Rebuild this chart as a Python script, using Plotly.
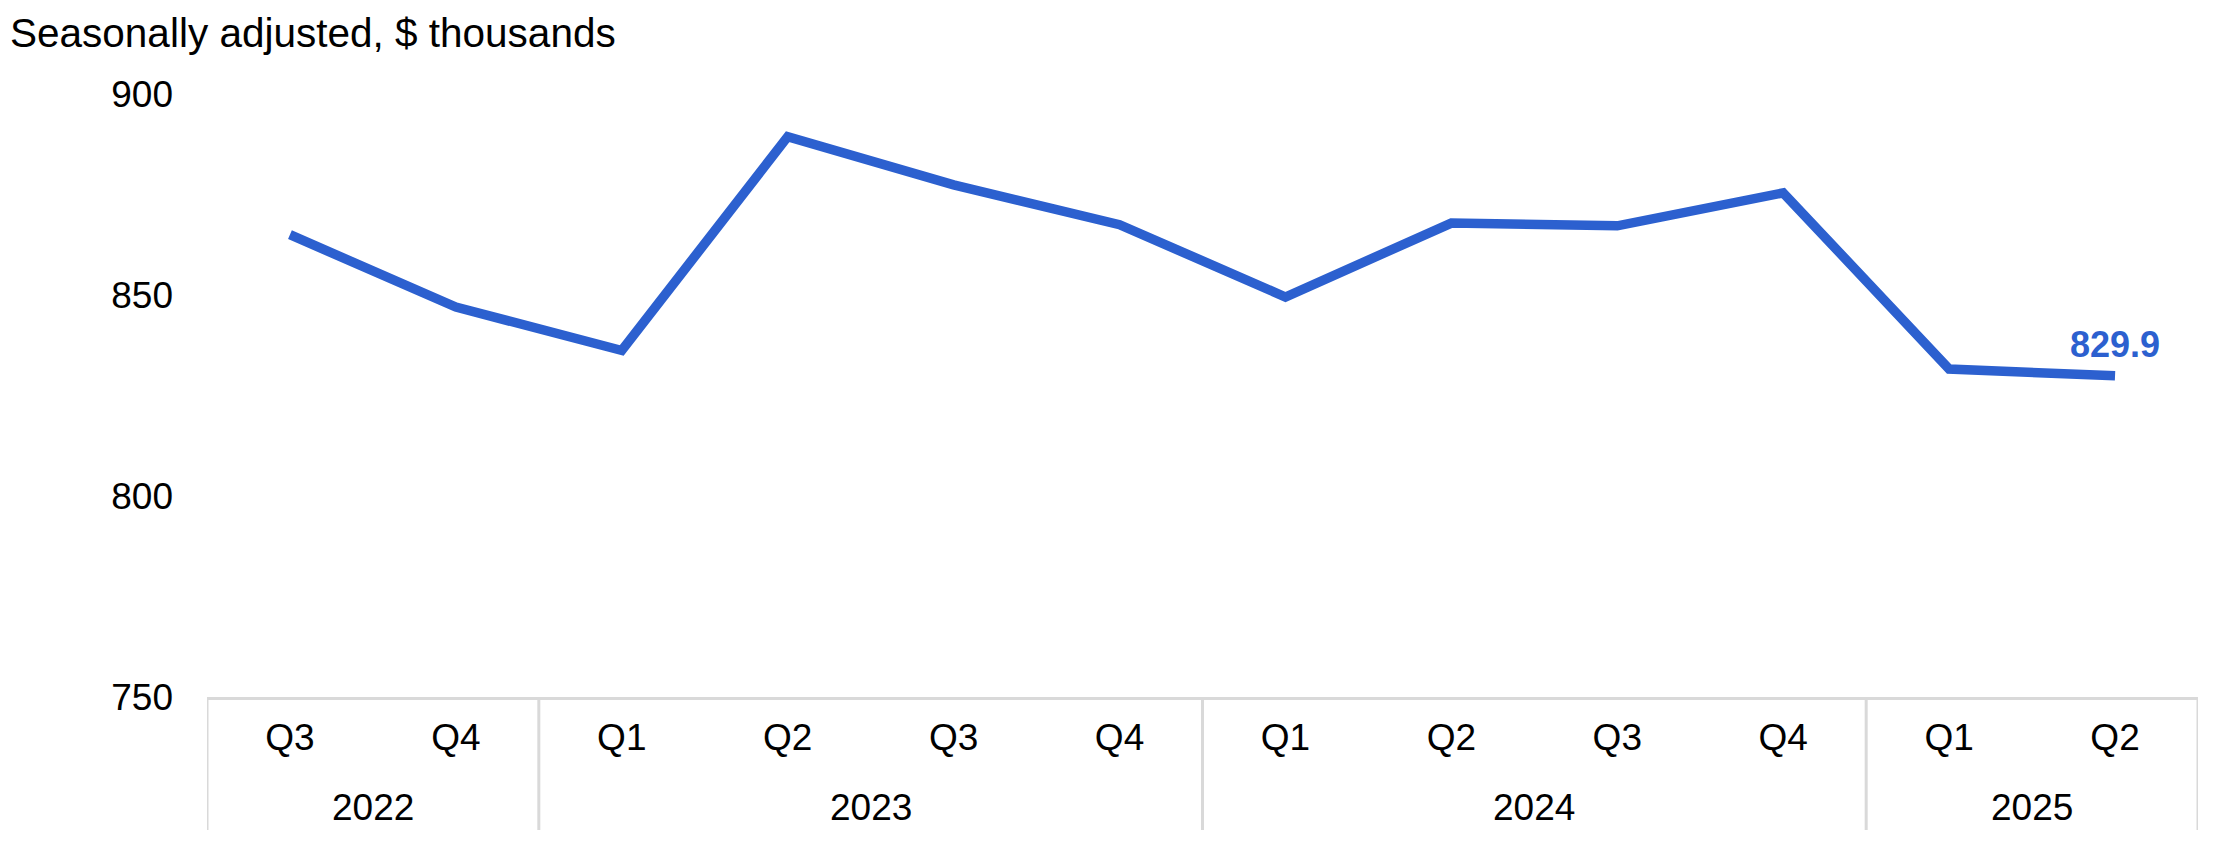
import plotly.graph_objects as go

years = ["2022", "2022", "2023", "2023", "2023", "2023",
         "2024", "2024", "2024", "2024", "2025", "2025"]
quarters = ["Q3", "Q4", "Q1", "Q2", "Q3", "Q4",
            "Q1", "Q2", "Q3", "Q4", "Q1", "Q2"]
values = [865.0, 847.0, 836.2, 889.4, 877.4, 867.5,
          849.5, 867.9, 867.2, 875.4, 831.6, 829.9]
y_ticks = [750, 800, 850, 900]
title_text = "Seasonally adjusted, $ thousands"

LINE = "#2C60CF"
GRID = "#D9D9D9"
FONT = "Liberation Sans, Arial, sans-serif"
FS = 37

# page body has an 8px margin; size the figure to fit the 2226x856 window
W, H = 2210, 840
L, T = 199, 86
PLOT_RIGHT, PLOT_BOTTOM = 2190, 689
PLOT_H = PLOT_BOTTOM - T

idx = list(range(len(quarters)))

fig = go.Figure()
fig.add_trace(go.Scatter(
    x=idx, y=values, mode="lines",
    line=dict(color=LINE, width=9.5), hoverinfo="skip", showlegend=False,
))

fig.add_annotation(
    x=idx[-1], y=values[-1], text=f"<b>{values[-1]:.1f}</b>",
    showarrow=False, yshift=31, font=dict(family=FONT, size=36, color=LINE),
)

# year groups: labels and dividers derived from the years list
groups = []
for i, yv in enumerate(years):
    if not groups or groups[-1][0] != yv:
        groups.append([yv, i, i])
    else:
        groups[-1][2] = i

BOX_BOTTOM = -133 / PLOT_H
YEAR_Y = -110 / PLOT_H
bounds = [g[1] - 0.5 for g in groups] + [groups[-1][2] + 0.5]
for b in bounds:
    fig.add_shape(type="line", xref="x", yref="paper", x0=b, x1=b,
                  y0=0, y1=BOX_BOTTOM, line=dict(color=GRID, width=3),
                  layer="below")
for name, a, b in groups:
    fig.add_annotation(x=(a + b) / 2, y=YEAR_Y, xref="x", yref="paper",
                       text=name, showarrow=False, yanchor="middle",
                       font=dict(family=FONT, size=FS, color="black"))

fig.update_layout(
    width=W, height=H,
    margin=dict(l=L, r=W - PLOT_RIGHT, t=T, b=H - PLOT_BOTTOM),
    paper_bgcolor="white", plot_bgcolor="white",
    font=dict(family=FONT, size=FS, color="black"),
    title=dict(text=title_text, x=2 / W, xanchor="left", xref="container",
               y=1 - 25 / H, yanchor="middle", yref="container",
               font=dict(family=FONT, size=40.5, color="black")),
    xaxis=dict(
        range=[-0.5, len(idx) - 0.5], tickvals=idx, ticktext=quarters,
        showgrid=False, zeroline=False,
        showline=True, linecolor=GRID, linewidth=3,
        ticks="", ticklabelstandoff=6,
        tickfont=dict(family=FONT, size=FS, color="black"),
    ),
    yaxis=dict(
        range=[750, 900], tickvals=y_ticks, showgrid=False, zeroline=False,
        showline=False, ticks="", ticklabelstandoff=33,
        tickfont=dict(family=FONT, size=FS, color="black"),
    ),
)

fig.write_html("out.html")
